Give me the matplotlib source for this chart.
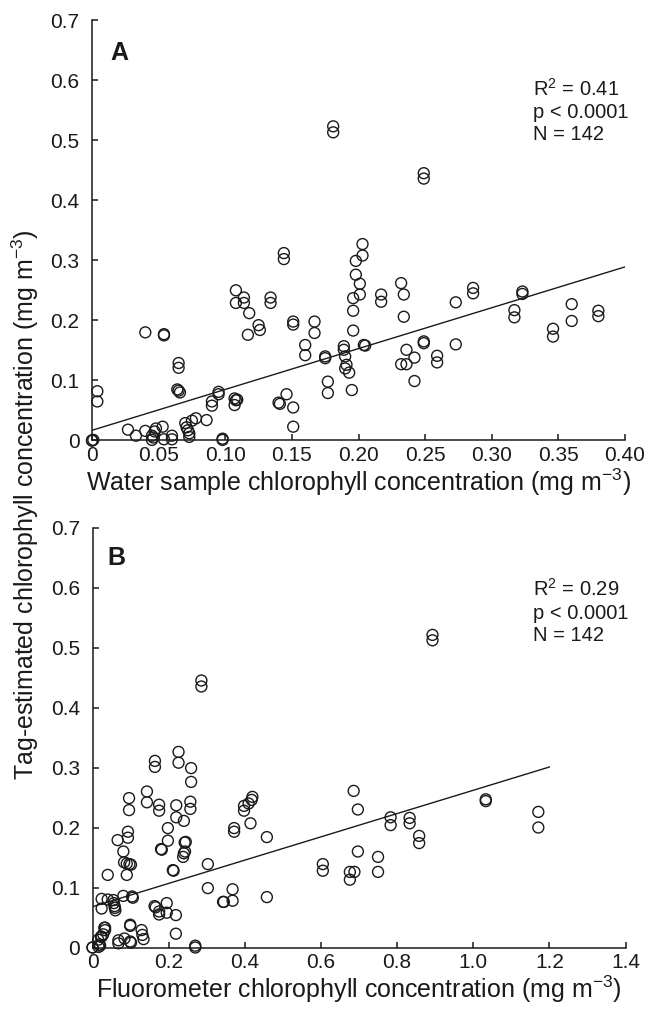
import matplotlib
matplotlib.use("Agg")
import matplotlib.pyplot as plt
import numpy as np

plt.rcParams['font.family'] = ['Liberation Sans', 'DejaVu Sans']
plt.rcParams['mathtext.fontset'] = 'custom'
plt.rcParams['mathtext.rm'] = 'Liberation Sans'
plt.rcParams['mathtext.it'] = 'Liberation Sans'
plt.rcParams['mathtext.default'] = 'regular'

# ---------------- Panel A data: water sample vs tag-estimated ----------------
water_x = [0.000, 0.000, 0.001, 0.004, 0.004, 0.027, 0.033, 0.040, 0.040, 0.045,
           0.045, 0.046, 0.047, 0.048, 0.053, 0.054, 0.054, 0.054, 0.060, 0.060,
           0.064, 0.065, 0.066, 0.065, 0.065, 0.070, 0.071, 0.072, 0.073, 0.073,
           0.075, 0.078, 0.086, 0.090, 0.090, 0.095, 0.095, 0.098, 0.098, 0.107,
           0.108, 0.107, 0.109, 0.108, 0.108, 0.114, 0.114, 0.118, 0.117, 0.125,
           0.126, 0.134, 0.134, 0.140, 0.141, 0.144, 0.144, 0.146, 0.151, 0.151,
           0.151, 0.151, 0.160, 0.160, 0.167, 0.167, 0.175, 0.175, 0.177, 0.177,
           0.181, 0.181, 0.189, 0.189, 0.190, 0.191, 0.193, 0.190, 0.195, 0.196,
           0.196, 0.196, 0.198, 0.198, 0.201, 0.201, 0.203, 0.203, 0.204, 0.205,
           0.217, 0.217, 0.232, 0.234, 0.234, 0.236, 0.232, 0.236, 0.242, 0.242,
           0.249, 0.249, 0.249, 0.249, 0.259, 0.259, 0.273, 0.273, 0.286, 0.286,
           0.317, 0.317, 0.323, 0.323, 0.346, 0.346, 0.360, 0.360, 0.380, 0.380]
tag_a = [0.000, 0.000, 0.001, 0.082, 0.065, 0.018, 0.008, 0.016, 0.180, 0.008,
         0.001, 0.005, 0.015, 0.020, 0.023, 0.002, 0.177, 0.175, 0.008, 0.002,
         0.085, 0.083, 0.080, 0.129, 0.121, 0.029, 0.022, 0.017, 0.012, 0.006,
         0.033, 0.037, 0.034, 0.065, 0.058, 0.081, 0.077, 0.003, 0.001, 0.070,
         0.067, 0.059, 0.068, 0.250, 0.229, 0.238, 0.229, 0.212, 0.176, 0.192,
         0.184, 0.238, 0.229, 0.063, 0.061, 0.312, 0.302, 0.077, 0.198, 0.193,
         0.055, 0.023, 0.159, 0.142, 0.198, 0.179, 0.140, 0.137, 0.098, 0.079,
         0.523, 0.513, 0.157, 0.151, 0.140, 0.126, 0.113, 0.120, 0.084, 0.183,
         0.216, 0.237, 0.276, 0.299, 0.261, 0.243, 0.327, 0.308, 0.159, 0.158,
         0.243, 0.231, 0.262, 0.243, 0.206, 0.151, 0.127, 0.127, 0.138, 0.099,
         0.165, 0.162, 0.445, 0.436, 0.141, 0.130, 0.230, 0.160, 0.254, 0.245,
         0.217, 0.205, 0.248, 0.244, 0.186, 0.173, 0.227, 0.199, 0.216, 0.207]

# regression line A
fit_a_range = [0.0, 0.40]
fit_a_intercept = 0.017
fit_a_slope = 0.68

# ---------------- Panel B data: fluorometer vs tag-estimated ----------------
fluor_x = [0.000, 0.000, 0.016, 0.018, 0.015, 0.022, 0.024, 0.028, 0.033, 0.033,
           0.031, 0.020, 0.024, 0.024, 0.040, 0.040, 0.055, 0.056, 0.058, 0.059,
           0.060, 0.068, 0.068, 0.084, 0.081, 0.104, 0.106, 0.099, 0.099, 0.099,
           0.101, 0.129, 0.131, 0.134, 0.066, 0.081, 0.093, 0.093, 0.083, 0.090,
           0.097, 0.101, 0.090, 0.096, 0.096, 0.143, 0.143, 0.164, 0.164, 0.175,
           0.175, 0.163, 0.166, 0.175, 0.175, 0.195, 0.195, 0.219, 0.219, 0.180,
           0.182, 0.198, 0.198, 0.211, 0.213, 0.226, 0.226, 0.220, 0.220, 0.240,
           0.259, 0.259, 0.257, 0.257, 0.242, 0.245, 0.240, 0.243, 0.238, 0.270,
           0.270, 0.286, 0.286, 0.303, 0.303, 0.343, 0.345, 0.368, 0.368, 0.372,
           0.372, 0.398, 0.398, 0.410, 0.420, 0.418, 0.415, 0.458, 0.458, 0.605,
           0.605, 0.676, 0.688, 0.676, 0.686, 0.697, 0.697, 0.750, 0.750, 0.783,
           0.783, 0.833, 0.833, 0.858, 0.858, 0.893, 0.893, 1.033, 1.033, 1.171,
           1.171]
tag_b = [0.000, 0.000, 0.001, 0.005, 0.013, 0.018, 0.018, 0.022, 0.029, 0.033,
         0.033, 0.003, 0.081, 0.065, 0.121, 0.080, 0.079, 0.074, 0.069, 0.066,
         0.062, 0.012, 0.007, 0.015, 0.086, 0.085, 0.083, 0.038, 0.036, 0.010,
         0.008, 0.029, 0.021, 0.014, 0.179, 0.160, 0.193, 0.183, 0.142, 0.140,
         0.139, 0.138, 0.121, 0.249, 0.229, 0.260, 0.242, 0.311, 0.301, 0.238,
         0.228, 0.069, 0.067, 0.060, 0.055, 0.074, 0.058, 0.054, 0.023, 0.164,
         0.163, 0.199, 0.178, 0.129, 0.128, 0.326, 0.308, 0.237, 0.217, 0.211,
         0.299, 0.276, 0.243, 0.231, 0.175, 0.176, 0.157, 0.160, 0.151, 0.003,
         0.000, 0.445, 0.435, 0.139, 0.099, 0.076, 0.076, 0.097, 0.078, 0.199,
         0.193, 0.236, 0.228, 0.240, 0.251, 0.246, 0.207, 0.184, 0.084, 0.139,
         0.128, 0.126, 0.126, 0.113, 0.261, 0.230, 0.160, 0.151, 0.126, 0.217,
         0.204, 0.216, 0.207, 0.186, 0.174, 0.521, 0.512, 0.247, 0.244, 0.226,
         0.200]

fit_b_range = [0.0, 1.2]
fit_b_intercept = 0.068
fit_b_slope = 0.194

# ticks
a_xticks = [0, 0.05, 0.10, 0.15, 0.20, 0.25, 0.30, 0.35, 0.40]
a_xticklabels = ['0', '0.05', '0.10', '0.15', '0.20', '0.25', '0.30', '0.35', '0.40']
b_xticks = [0, 0.2, 0.4, 0.6, 0.8, 1.0, 1.2, 1.4]
b_xticklabels = ['0', '0.2', '0.4', '0.6', '0.8', '1.0', '1.2', '1.4']
yticks = [0, 0.1, 0.2, 0.3, 0.4, 0.5, 0.6, 0.7]
yticklabels = ['0', '0.1', '0.2', '0.3', '0.4', '0.5', '0.6', '0.7']

stats_a = ['R$^{2}$ = 0.41', 'p < 0.0001', 'N = 142']
stats_b = ['R$^{2}$ = 0.29', 'p < 0.0001', 'N = 142']

W, H = 654, 1010
fig = plt.figure(figsize=(W / 100, H / 100), dpi=100)

def px_axes(left, top, right, bottom):
    return fig.add_axes([left / W, 1 - bottom / H, (right - left) / W, (bottom - top) / H])

axA = px_axes(92, 20, 625, 440.5)
axB = px_axes(92.5, 527.5, 625.5, 947.5)

ink = '#1a1a1a'
tick_fs = 15
label_fs = 18.0
stat_fs = 14.5

def style(ax, xt, xtl, xmax):
    ax.set_xlim(0, xmax)
    ax.set_ylim(0, 0.7)
    for s in ['top', 'right']:
        ax.spines[s].set_visible(False)
    for s in ['left', 'bottom']:
        ax.spines[s].set_linewidth(1.1)
        ax.spines[s].set_color(ink)
    ax.set_xticks(xt)
    ax.set_xticklabels(xtl)
    ax.set_yticks(yticks)
    ax.set_yticklabels(yticklabels)
    ax.tick_params(direction='in', length=4, width=1.1, color=ink,
                   labelsize=tick_fs, labelcolor=ink)
    ax.tick_params(axis='y', pad=9)
    ax.tick_params(axis='x', pad=4)

def draw(ax, x, y, fr, b0, b1):
    ax.scatter(x, y, s=62, facecolors='none', edgecolors=ink, linewidths=1.0,
               clip_on=False, zorder=3)
    xs = np.array(fr)
    ax.plot(xs, b0 + b1 * xs, color=ink, lw=1.0, zorder=2)

draw(axA, water_x, tag_a, fit_a_range, fit_a_intercept, fit_a_slope)
style(axA, a_xticks, a_xticklabels, 0.40)
draw(axB, fluor_x, tag_b, fit_b_range, fit_b_intercept, fit_b_slope)
style(axB, b_xticks, b_xticklabels, 1.4)

axA.set_xlabel('Water sample chlorophyll concentration (mg m$^{-3}$)',
               fontsize=label_fs, color=ink, labelpad=1)
axB.set_xlabel('Fluorometer chlorophyll concentration (mg m$^{-3}$)',
               fontsize=label_fs, color=ink, labelpad=1)
fig.text(0.038, 0.5, 'Tag-estimated chlorophyll concentration (mg m$^{-3}$)',
         rotation=90, ha='center', va='center', fontsize=label_fs, color=ink)

axA.text(0.035, 0.905, 'A', transform=axA.transAxes, fontsize=18,
         fontweight='bold', color=ink, ha='left', va='baseline')
axB.text(0.028, 0.911, 'B', transform=axB.transAxes, fontsize=18,
         fontweight='bold', color=ink, ha='left', va='baseline')

def stats(ax, lines, x0, y0, dy):
    for i, t in enumerate(lines):
        ax.text(x0, y0 - i * dy, t, transform=ax.transAxes,
                fontsize=stat_fs, color=ink, ha='left', va='baseline')

stats(axA, stats_a, 0.827, 0.82, 0.053)
stats(axB, stats_b, 0.827, 0.837, 0.054)

fig.savefig('out.png', dpi=100, facecolor='white')
